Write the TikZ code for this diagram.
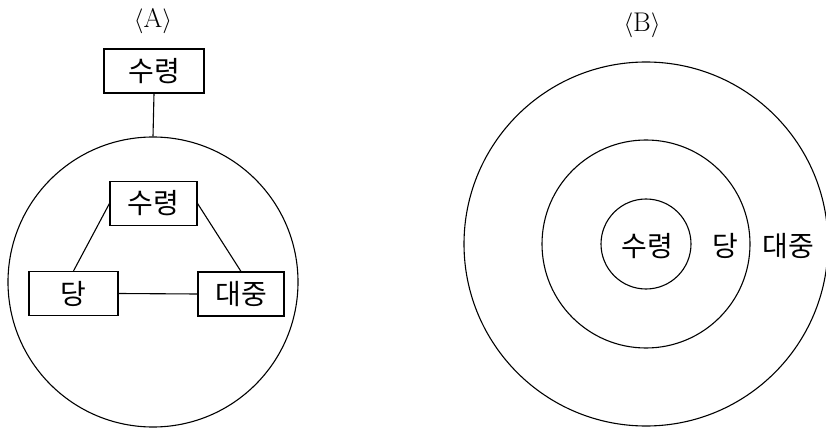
\documentclass[tikz,border=0pt]{standalone}
\usepackage{fontspec}
\newfontfamily\kr{Noto Sans CJK KR}
\begin{document}
\begin{tikzpicture}[x=1pt,y=-1pt,
  every node/.style={inner sep=0pt},
  line/.style={draw=black,line width=1.1pt},
  krtext/.style={font=\kr\fontsize{28}{28}\selectfont},
  labeltext/.style={font=\fontsize{27}{27}\selectfont},
  boxnode/.style={line,rectangle,krtext,minimum height=44pt},
  ring/.style={line,circle}]
\useasboundingbox (0,0) rectangle (826,430);
% ---- A ----
\node[labeltext] (la) at (153,21) {$\langle$A$\rangle$};
\node[boxnode,minimum width=100pt] (top) at (154,71) {수령};
\node[ring,minimum size=290pt] (ca) at (153,282) {};
\node[boxnode,minimum width=87pt] (s) at (153.5,203.5) {수령};
\node[boxnode,minimum width=89pt] (d) at (73.5,293.5) {당};
\node[boxnode,minimum width=86pt] (m) at (241,294) {대중};
\draw[line] (top.south) -- (ca.north);
\draw[line] (s.west) -- (d.north);
\draw[line] (s.east) -- (m.north);
\draw[line] (d.east) -- (m.west);
% ---- B ----
\node[labeltext] (lb) at (642,25) {$\langle$B$\rangle$};
\node[ring,minimum size=364pt] (c1) at (646,244) {};
\node[ring,minimum size=208pt] (c2) at (646,244) {};
\node[ring,minimum size=90pt] (c3) at (646,244) {};
\node[krtext] (t1) at (647,246) {수령};
\node[krtext] (t2) at (725,246) {당};
\node[krtext] (t3) at (788,246) {대중};
\end{tikzpicture}
\end{document}
